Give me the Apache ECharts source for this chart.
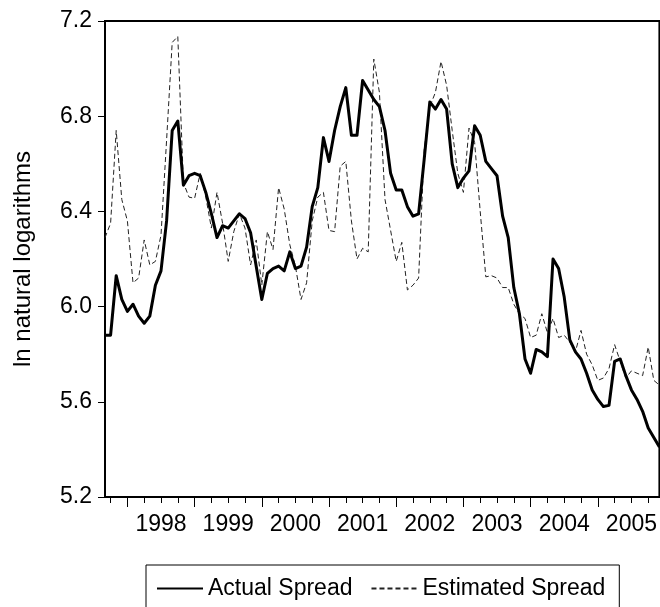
<!DOCTYPE html>
<html>
<head>
<meta charset="utf-8">
<script src="https://cdn.jsdelivr.net/npm/echarts@6/dist/echarts.min.js"></script>
<style>
  html, body { margin: 0; padding: 0; background: #fff; }
  #chart { width: 660px; height: 607px; }
</style>
</head>
<body>
<div id="chart"></div>
<script>
// Monthly observations, 1997M09 .. 2005M12 (natural logarithms of the spread)
const firstYear = 1997;
const firstMonth = 9;

const actualSpread = [
  // 1997 Sep-Dec
  5.88, 5.88, 6.13, 6.03,
  // 1998
  5.98, 6.01, 5.96, 5.93, 5.96, 6.09, 6.15, 6.36, 6.74, 6.78, 6.51, 6.55,
  // 1999
  6.56, 6.55, 6.48, 6.39, 6.29, 6.34, 6.33, 6.36, 6.39, 6.37, 6.31, 6.17,
  // 2000
  6.03, 6.14, 6.16, 6.17, 6.15, 6.23, 6.16, 6.17, 6.25, 6.42, 6.50, 6.71,
  // 2001
  6.61, 6.74, 6.84, 6.92, 6.72, 6.72, 6.95, 6.91, 6.87, 6.84, 6.74, 6.56,
  // 2002
  6.49, 6.49, 6.42, 6.38, 6.39, 6.62, 6.86, 6.83, 6.87, 6.83, 6.60, 6.50,
  // 2003
  6.54, 6.57, 6.76, 6.72, 6.61, 6.58, 6.55, 6.38, 6.29, 6.08, 5.97, 5.78,
  // 2004
  5.72, 5.82, 5.81, 5.79, 6.20, 6.16, 6.04, 5.86, 5.81, 5.78, 5.72, 5.65,
  // 2005
  5.61, 5.58, 5.585, 5.77, 5.78, 5.71, 5.65, 5.61, 5.56, 5.49, 5.45, 5.41
];

const estimatedSpread = [
  // 1997 Sep-Dec
  6.29, 6.35, 6.74, 6.45,
  // 1998
  6.36, 6.10, 6.12, 6.28, 6.175, 6.19, 6.30, 6.70, 7.11, 7.135, 6.52, 6.46,
  // 1999
  6.455, 6.56, 6.46, 6.33, 6.48, 6.35, 6.19, 6.315, 6.39, 6.33, 6.175, 6.28,
  // 2000
  6.09, 6.315, 6.24, 6.50, 6.41, 6.26, 6.17, 6.03, 6.10, 6.36, 6.46, 6.48,
  // 2001
  6.32, 6.315, 6.59, 6.61, 6.36, 6.20, 6.245, 6.23, 7.04, 6.90, 6.45, 6.32,
  // 2002
  6.19, 6.27, 6.07, 6.09, 6.12, 6.66, 6.84, 6.90, 7.03, 6.93, 6.74, 6.56,
  // 2003
  6.48, 6.75, 6.69, 6.40, 6.125, 6.13, 6.12, 6.08, 6.08, 6.01, 5.97, 5.95,
  // 2004
  5.87, 5.88, 5.97, 5.89, 5.95, 5.87, 5.88, 5.85, 5.81, 5.90, 5.80, 5.755,
  // 2005
  5.69, 5.70, 5.74, 5.84, 5.77, 5.70, 5.73, 5.72, 5.71, 5.83, 5.69, 5.67
];

const yearLabels = ['1998', '1999', '2000', '2001', '2002', '2003', '2004', '2005'];
const seriesNames = ['Actual Spread', 'Estimated Spread'];
const yAxisTitle = 'ln natural logarithms';

// month index of a given year/month relative to the first observation
function monthIndex(year, month) {
  return (year - firstYear) * 12 + (month - firstMonth);
}

const lastIndex = actualSpread.length - 1;

// quarter starts (minor ticks), year starts (major ticks), mid-year label anchors
const quarterTicks = [];
for (let y = firstYear; y <= 2005; y++) {
  for (const m of [1, 4, 7, 10]) {
    const idx = monthIndex(y, m);
    if (idx >= 0 && idx <= lastIndex) quarterTicks.push(idx);
  }
}
const yearTicks = yearLabels.map(y => monthIndex(+y, 1));
const yearLabelPos = yearLabels.map(y => monthIndex(+y, 1) + 6);

const FONT = 'Liberation Sans, Arial, Helvetica, sans-serif';

const chart = echarts.init(document.getElementById('chart'), null, { renderer: 'canvas' });

chart.setOption({
  animation: false,
  backgroundColor: '#fff',
  color: ['#000', '#222'],
  grid: {
    left: 105,
    top: 21,
    width: 557,
    height: 476,
    show: true,
    borderColor: '#000',
    borderWidth: 2,
    backgroundColor: 'transparent'
  },
  legend: {
    left: 146,
    top: 565,
    orient: 'horizontal',
    data: seriesNames,
    itemWidth: 46,
    itemHeight: 14,
    itemGap: 18,
    padding: [12, 14, 12, 10],
    borderColor: '#000',
    borderWidth: 1,
    selectedMode: false,
    itemStyle: { opacity: 0 },
    textStyle: { fontFamily: FONT, fontSize: 23, color: '#000' }
  },
  xAxis: [
    {
      type: 'value',
      min: 0,
      max: lastIndex,
      position: 'bottom',
      splitLine: { show: false },
      axisLine: { show: true, lineStyle: { color: '#000', width: 2 } },
      axisTick: {
        show: true,
        inside: false,
        length: 6,
        customValues: quarterTicks,
        lineStyle: { color: '#000', width: 1 }
      },
      axisLabel: { show: false }
    },
    {
      type: 'value',
      min: 0,
      max: lastIndex,
      position: 'bottom',
      splitLine: { show: false },
      axisLine: { show: false },
      axisTick: {
        show: true,
        inside: false,
        length: 10,
        customValues: yearTicks,
        lineStyle: { color: '#000', width: 1 }
      },
      axisLabel: {
        show: true,
        customValues: yearLabelPos,
        margin: 16,
        fontFamily: FONT,
        fontSize: 23,
        color: '#000',
        formatter: v => yearLabels[Math.round((v - yearLabelPos[0]) / 12)]
      }
    }
  ],
  yAxis: {
    type: 'value',
    min: 5.2,
    max: 7.2,
    interval: 0.4,
    name: yAxisTitle,
    nameLocation: 'middle',
    nameGap: 70,
    nameRotate: 90,
    nameTextStyle: { fontFamily: FONT, fontSize: 24, color: '#000' },
    splitLine: { show: false },
    axisLine: { show: true, lineStyle: { color: '#000', width: 2 } },
    axisTick: { show: true, inside: false, length: 7, lineStyle: { color: '#000', width: 1 } },
    axisLabel: {
      margin: 13,
      fontFamily: FONT,
      fontSize: 23,
      color: '#000',
      formatter: v => v.toFixed(1)
    }
  },
  series: [
    {
      name: seriesNames[0],
      type: 'line',
      xAxisIndex: 0,
      data: actualSpread.map((v, i) => [i, v]),
      symbol: 'none',
      showSymbol: false,
      z: 4,
      itemStyle: { color: '#000' },
      lineStyle: { color: '#000', width: 3, join: 'round' }
    },
    {
      name: seriesNames[1],
      type: 'line',
      xAxisIndex: 0,
      data: estimatedSpread.map((v, i) => [i, v]),
      symbol: 'none',
      showSymbol: false,
      z: 3,
      itemStyle: { color: '#222' },
      lineStyle: { color: '#222', width: 1, type: [5, 3] }
    }
  ]
});
</script>
</body>
</html>
